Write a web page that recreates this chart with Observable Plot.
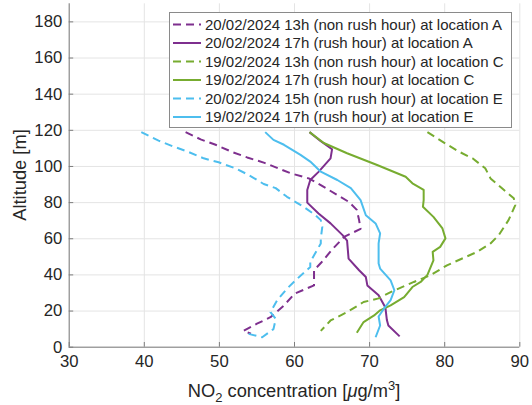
<!DOCTYPE html>
<html><head><meta charset="utf-8">
<script src="https://cdn.jsdelivr.net/npm/d3@7"></script>
<script src="https://cdn.jsdelivr.net/npm/@observablehq/plot@0.6"></script>
<style>body{margin:0;background:#fff} svg{display:block}</style>
</head><body><div id="chart"></div>
<script>
const xTicks = [30, 40, 50, 60, 70, 80, 90];
const yTicks = [0, 20, 40, 60, 80, 100, 120, 140, 160, 180];

const seriesLabels = [
  "20/02/2024 13h (non rush hour) at location A",
  "20/02/2024 17h (rush hour) at location A",
  "19/02/2024 13h (non rush hour) at location C",
  "19/02/2024 17h (rush hour) at location C",
  "20/02/2024 15h (non rush hour) at location E",
  "19/02/2024 17h (rush hour) at location E"
];
const seriesColors = ["#7E2F8E", "#7E2F8E", "#77AC30", "#77AC30", "#4DBEEE", "#4DBEEE"];
const seriesDashed = [true, false, true, false, true, false];

// location A, 13h
const a13_conc = [45.5,47.5,49.5,51.7,53.7,56.0,59.5,61.9,63.5,65.7,67.2,68.3,68.6,68.8,66.6,65.0,63.6,62.6,62.6,60.0,58.6,56.8,55.0,53.2,54.2];
const a13_alt  = [119,115,112,108,105,102,96.2,93.4,89.7,84.2,80.5,76,70.3,65.5,61,54,47,42.6,34.2,29.6,23.1,16.6,13,9,7.5];
// location A, 17h
const a17_conc = [62.0,63.5,65.0,64.8,63.2,62.1,61.7,61.7,63.2,64.8,66.4,67.0,67.2,68.6,69.5,69.7,71.2,72.1,72.3,72.5,74.0];
const a17_alt  = [119,114,109.5,104.5,97,92.5,87,80,74,68.5,62,59,49,42.6,38.8,34.2,28.7,22,15,12,6];
// location C, 13h
const c13_conc = [77.7,79.9,81.9,83.7,85.4,86.1,87.9,89.2,89.4,88.5,87.2,86.1,84.3,80.3,78.1,75.9,72.8,71.2,69.2,67.0,64.8,63.5];
const c13_alt  = [119,113.2,108.2,104.5,99,93.4,87,82.4,78.6,70.3,62,57.4,52.7,45.3,39.8,36.1,30.5,27,25,19.4,14.8,9];
// location C, 17h
const c17_conc = [62.0,63.9,67.0,71.0,74.8,75.7,77.2,77.2,77.1,78.5,79.7,80.1,79.4,78.4,78.5,77.7,76.8,75.7,74.6,72.8,71.4,70.6,69.2,68.3];
const c17_alt  = [119,113,107.3,100.8,94.3,90.7,87,81.4,77.7,72.1,65.7,60.2,55.5,52.7,48,40,36.1,33.3,27.7,23.1,20.4,17.6,13.9,8];
// location E, 15h
const e15_conc = [39.6,41.9,43.9,45.9,47.9,49.9,52.1,53.9,55.9,57.5,59.0,61.2,62.8,63.5,63.7,63.5,63.5,62.1,62.1,60.4,59.0,57.7,56.8,57.5,57.2,55.7,53.3];
const e15_alt  = [119,114.3,111,108,104.5,102.3,99,95.3,90.3,88,83.2,77.7,73,70.3,66.6,60,57.4,47.2,44.4,38,32.4,26,19.4,15.7,10,5.5,8];
// location E, 17h
const e17_conc = [56.1,57.2,58.6,60.8,62.1,63.5,65.7,67.5,68.8,69.5,70.8,71.4,71.2,71.2,71.4,72.8,73.3,72.8,71.9,71.2,71.4,70.8];
const e17_alt  = [119,114.7,112,106.4,102.7,97.1,92.5,88,81.4,73,68.5,63,57.4,46.3,43.5,37,31.5,26,21.3,17,12,5.5];

const seriesConc = [a13_conc, a17_conc, c13_conc, c17_conc, e15_conc, e17_conc];
const seriesAlt  = [a13_alt, a17_alt, c13_alt, c17_alt, e15_alt, e17_alt];

const W = 532, H = 405;
const mL = 68.7, mR = 12.7, mT = 3.3, mB = 58.3;
const FONT = "'Liberation Sans', Arial, Helvetica, sans-serif";

const lineMarks = seriesLabels.map((lab, i) => {
  const rows = seriesConc[i].map((c, j) => ({conc: c, alt: seriesAlt[i][j]}));
  return Plot.line(rows, {
    x: "conc", y: "alt",
    stroke: seriesColors[i], strokeWidth: 2,
    strokeDasharray: seriesDashed[i] ? "8,5" : null,
    strokeLinejoin: "round", strokeLinecap: "butt"
  });
});

const chart = Plot.plot({
  width: W, height: H,
  marginLeft: mL, marginRight: mR, marginTop: mT, marginBottom: mB,
  style: {fontFamily: FONT, fontSize: "16.7px", color: "#262626", background: "#fff"},
  x: {domain: [30, 90]},
  y: {domain: [0, 190]},
  marks: [
    Plot.gridX(xTicks, {stroke: "#e4e4e4", strokeOpacity: 1}),
    Plot.gridY(yTicks, {stroke: "#e4e4e4", strokeOpacity: 1}),
    Plot.ruleY([0], {stroke: "#7d7d7d"}),
    Plot.ruleX([30], {stroke: "#7d7d7d"}),
    Plot.ruleX(xTicks, {x: d => d, y1: 0, y2: 2.6, stroke: "#7d7d7d"}),
    Plot.ruleY(yTicks, {y: d => d, x1: 30, x2: 30.6, stroke: "#7d7d7d"}),
    Plot.axisX({ticks: xTicks, tickSize: 0, tickPadding: 8, label: null, tickFormat: d => String(d)}),
    Plot.axisY({ticks: yTicks, tickSize: 0, tickPadding: 7, label: null, tickFormat: d => String(d)}),
    ...lineMarks
  ]
});

document.getElementById("chart").appendChild(chart);
const svg = d3.select(chart);

// axis titles
const xl = svg.append("text")
  .attr("x", (mL + W - mR) / 2).attr("y", 397)
  .attr("text-anchor", "middle")
  .style("font-size", "18.3px").style("fill", "#262626").style("font-family", FONT);
xl.append("tspan").text("NO");
xl.append("tspan").attr("dy", 5).style("font-size", "13px").text("2");
xl.append("tspan").attr("dy", -5).text(" concentration [");
xl.append("tspan").style("font-style", "italic").text("\u03bc");
xl.append("tspan").text("g/m");
xl.append("tspan").attr("dy", -7).style("font-size", "13px").text("3");
xl.append("tspan").attr("dy", 7).text("]");

svg.append("text")
  .attr("transform", `translate(26,${(mT + H - mB) / 2}) rotate(-90)`)
  .attr("text-anchor", "middle")
  .style("font-size", "18.3px").style("fill", "#262626").style("font-family", FONT)
  .text("Altitude [m]");

// legend
const lg = svg.append("g").attr("text-anchor", "start");
const lx0 = 169, lx1 = 511, ly0 = 12, ly1 = 127;
lg.append("rect").attr("x", lx0 + 0.5).attr("y", ly0 + 0.5)
  .attr("width", lx1 - lx0).attr("height", ly1 - ly0)
  .attr("fill", "#fff").attr("stroke", "#8a8a8a").attr("stroke-width", 1);
seriesLabels.forEach((lab, i) => {
  const cy = 24.5 + i * 18.5;
  lg.append("line").attr("x1", 173).attr("x2", 201).attr("y1", cy).attr("y2", cy)
    .attr("stroke", seriesColors[i]).attr("stroke-width", 2)
    .attr("stroke-dasharray", seriesDashed[i] ? "8,5" : null);
  lg.append("text").attr("x", 205).attr("y", cy).attr("dy", "0.35em")
    .attr("text-anchor", "start")
    .style("font-size", "15px").style("fill", "#262626").style("font-family", FONT)
    .text(lab);
});
</script></body></html>
